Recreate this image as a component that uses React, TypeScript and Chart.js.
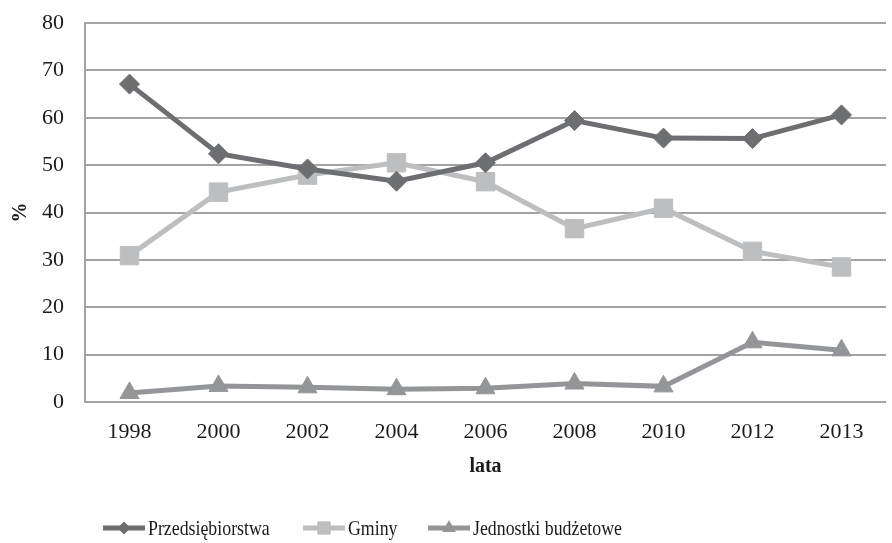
import React, { useEffect, useRef } from "react";
import { Chart, registerables } from "chart.js";

Chart.register(...registerables);

const years = ["1998", "2000", "2002", "2004", "2006", "2008", "2010", "2012", "2013"];
const przedsiebiorstwa = [67.1, 52.4, 49.2, 46.6, 50.5, 59.4, 55.7, 55.6, 60.6];
const gminy = [30.9, 44.3, 47.9, 50.5, 46.5, 36.6, 40.9, 31.8, 28.5];
const jednostki = [1.9, 3.4, 3.1, 2.7, 2.9, 3.9, 3.3, 12.6, 10.9];
const seriesNames = ["Przedsiębiorstwa", "Gminy", "Jednostki budżetowe"];
const yTicks = [0, 10, 20, 30, 40, 50, 60, 70, 80];

const FONT = "'Liberation Serif', 'Times New Roman', serif";
const C_DARK = "#6d6e71";
const C_LIGHT = "#bcbec0";
const C_MID = "#939598";
const GRID = "#a3a3a3";

const legendPlugin = {
  id: "customLegend",
  afterDraw(chart: any) {
    const ctx = chart.ctx as CanvasRenderingContext2D;
    const items = [
      { x: 103, color: C_DARK, style: "rectRot", r: 6.5 },
      { x: 303, color: C_LIGHT, style: "rect", r: 9.5 },
      { x: 428, color: C_MID, style: "triangle", r: 8 },
    ];
    const y = 528;
    ctx.save();
    items.forEach((it, i) => {
      ctx.strokeStyle = it.color;
      ctx.lineWidth = 5;
      ctx.beginPath();
      ctx.moveTo(it.x, y);
      ctx.lineTo(it.x + 42, y);
      ctx.stroke();
      ctx.fillStyle = it.color;
      const cx = it.x + 21;
      ctx.beginPath();
      if (it.style === "rectRot") {
        ctx.moveTo(cx - it.r, y);
        ctx.lineTo(cx, y - it.r);
        ctx.lineTo(cx + it.r, y);
        ctx.lineTo(cx, y + it.r);
        ctx.closePath();
      } else if (it.style === "rect") {
        const h = it.r * Math.SQRT1_2;
        ctx.rect(cx - h, y - h, 2 * h, 2 * h);
      } else {
        const r = it.r;
        ctx.moveTo(cx, y - r);
        ctx.lineTo(cx + r * Math.sin((2 * Math.PI) / 3), y - r * Math.cos((2 * Math.PI) / 3));
        ctx.lineTo(cx + r * Math.sin((4 * Math.PI) / 3), y - r * Math.cos((4 * Math.PI) / 3));
        ctx.closePath();
      }
      ctx.fill();
      ctx.save();
      ctx.translate(it.x + 45, y + 1);
      ctx.scale(0.81, 1);
      ctx.fillStyle = "#1a1a1a";
      ctx.font = `22px ${FONT}`;
      ctx.textAlign = "left";
      ctx.textBaseline = "middle";
      ctx.fillText(seriesNames[i], 0, 0);
      ctx.restore();
    });
    ctx.restore();
  },
};

export default function App() {
  const ref = useRef<HTMLCanvasElement | null>(null);

  useEffect(() => {
    if (!ref.current) return;
    const chart = new Chart(ref.current, {
      type: "line",
      data: {
        labels: years,
        datasets: [
          {
            label: seriesNames[0],
            data: przedsiebiorstwa,
            borderColor: C_DARK,
            backgroundColor: C_DARK,
            borderWidth: 5,
            pointStyle: "rectRot",
            pointRadius: 10,
            pointBorderWidth: 1,
            pointBackgroundColor: C_DARK,
            pointBorderColor: C_DARK,
            tension: 0,
          },
          {
            label: seriesNames[1],
            data: gminy,
            borderColor: C_LIGHT,
            backgroundColor: C_LIGHT,
            borderWidth: 5,
            pointStyle: "rect",
            pointRadius: 13,
            pointBorderWidth: 1,
            pointBackgroundColor: C_LIGHT,
            pointBorderColor: C_LIGHT,
            tension: 0,
          },
          {
            label: seriesNames[2],
            data: jednostki,
            borderColor: C_MID,
            backgroundColor: C_MID,
            borderWidth: 5,
            pointStyle: "triangle",
            pointRadius: 11,
            pointBorderWidth: 1,
            pointBackgroundColor: C_MID,
            pointBorderColor: C_MID,
            tension: 0,
          },
        ],
      },
      options: {
        animation: false,
        responsive: false,
        layout: { padding: { top: 23, bottom: 60, left: 0, right: 0 } },
        plugins: {
          legend: { display: false },
          tooltip: { enabled: false },
        },
        scales: {
          x: {
            type: "category",
            offset: true,
            grid: { display: false, drawTicks: false },
            border: { display: false },
            ticks: {
              padding: 17,
              color: "#1a1a1a",
              font: { family: FONT, size: 22 },
              maxRotation: 0,
            },
            title: {
              display: true,
              text: "lata",
              color: "#1a1a1a",
              font: { family: FONT, size: 20, weight: "bold" },
              padding: { top: 0, bottom: 4 },
            },
            afterFit: (scale: any) => {
              scale.height = 81;
              scale.paddingLeft = 0;
              scale.paddingRight = 0;
            },
          },
          y: {
            min: 0,
            max: 80,
            afterBuildTicks: (scale: any) => {
              scale.ticks = yTicks.map((v) => ({ value: v }));
            },
            grid: { color: GRID, lineWidth: 2, drawTicks: false },
            border: { display: true, color: GRID, width: 2 },
            ticks: {
              padding: 21,
              color: "#1a1a1a",
              font: { family: FONT, size: 22 },
            },
            title: {
              display: true,
              text: "%",
              color: "#1a1a1a",
              font: { family: FONT, size: 20, weight: "bold" },
              padding: { top: 9, bottom: 0 },
            },
            afterFit: (scale: any) => {
              scale.width = 85;
              scale.paddingTop = 0;
              scale.paddingBottom = 0;
            },
          },
        },
      },
      plugins: [legendPlugin],
    });
    return () => chart.destroy();
  }, []);

  return (
    <div
      style={{
        position: "fixed",
        left: 0,
        top: 0,
        width: 892,
        height: 543,
        overflow: "hidden",
        background: "#ffffff",
      }}
    >
      <canvas ref={ref} width={900} height={543} style={{ display: "block" }} />
    </div>
  );
}
